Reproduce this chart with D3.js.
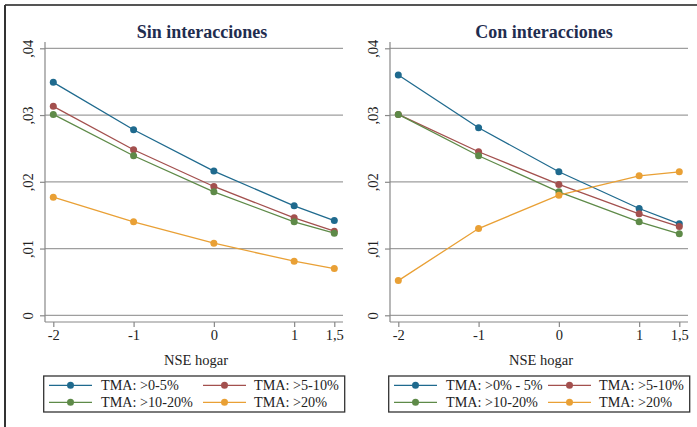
<!DOCTYPE html>
<html><head><meta charset="utf-8">
<script src="https://cdn.jsdelivr.net/npm/d3@7"></script>
<style>body{margin:0;background:#fff}svg{display:block}</style>
</head><body>
<svg id="c" width="697" height="427"></svg>
<script>
const xValues = [-2, -1, 0, 1, 1.5];
const xTickLabels = ["-2", "-1", "0", "1", "1,5"];
const yTicks = [0, 0.01, 0.02, 0.03, 0.04];
const yTickLabels = ["0", ",01", ",02", ",03", ",04"];
const panelTitles = ["Sin interacciones", "Con interacciones"];
const xAxisTitle = "NSE hogar";

const seriesNamesLeft = ["TMA: >0-5%", "TMA: >5-10%", "TMA: >10-20%", "TMA: >20%"];
const seriesNamesRight = ["TMA: >0% - 5%", "TMA: >5-10%", "TMA: >10-20%", "TMA: >20%"];

const leftBlue   = [0.0349, 0.0278, 0.0216, 0.0164, 0.0142];
const leftRed    = [0.0313, 0.0248, 0.0193, 0.0146, 0.0126];
const leftGreen  = [0.0301, 0.0239, 0.0185, 0.0140, 0.0123];
const leftOrange = [0.0177, 0.0140, 0.0108, 0.0081, 0.0070];

const rightBlue   = [0.0360, 0.0281, 0.0215, 0.0160, 0.0137];
const rightRed    = [0.0301, 0.0245, 0.0196, 0.0152, 0.0133];
const rightGreen  = [0.0301, 0.0239, 0.0185, 0.0140, 0.0122];
const rightOrange = [0.0052, 0.0130, 0.0180, 0.0209, 0.0215];

const colors = ["#1f6a8e", "#a3504e", "#5e8a48", "#e9a035"];
const FONT = "Liberation Serif";

const svg = d3.select("#c");

// outer frame (top and left edges)
svg.append("line").attr("x1",5).attr("x2",697).attr("y1",5).attr("y2",5).attr("stroke","#555").attr("stroke-width",2);
svg.append("line").attr("x1",5).attr("x2",5).attr("y1",5).attr("y2",427).attr("stroke","#333").attr("stroke-width",2);

const y = d3.scaleLinear().domain([0, 0.04]).range([315.3, 48.3]);

function panel(offset, title, series, names) {
  const g = svg.append("g").attr("transform", `translate(${offset},0)`);
  const x = d3.scaleLinear().domain([-2, 1.5]).range([53.3, 334.3]);
  const plotL = 45, plotR = 343, axisY = 322;

  g.selectAll(".grid").data(yTicks).join("line")
    .attr("x1", plotL).attr("x2", plotR)
    .attr("y1", d => y(d)).attr("y2", d => y(d))
    .attr("stroke", "#9e9e9e").attr("stroke-width", 1.2);

  const yAxis = d3.axisLeft(y).tickValues(yTicks).tickSize(5)
    .tickFormat((d,i) => yTickLabels[i]);
  const ya = g.append("g").attr("transform", `translate(${plotL},0)`).call(yAxis);
  ya.attr("font-family", FONT);
  ya.select(".domain").attr("d", `M0,42V${axisY}`).attr("stroke", "#888").attr("stroke-width",1.2);
  ya.selectAll(".tick line").attr("stroke", "#888").attr("stroke-width",1.2);
  ya.selectAll(".tick text")
    .attr("font-family", FONT).attr("font-size", 14.5).attr("fill", "#222")
    .attr("x", 0).attr("dy", 0)
    .attr("text-anchor", "middle")
    .attr("transform", "translate(-12.5,0) rotate(-90)");

  const xAxis = d3.axisBottom(x).tickValues(xValues).tickSize(5)
    .tickFormat((d,i) => xTickLabels[i]);
  const xa = g.append("g").attr("transform", `translate(0,${axisY})`).call(xAxis);
  xa.attr("font-family", FONT);
  xa.select(".domain").attr("d", `M${plotL},0H${plotR}`).attr("stroke", "#888").attr("stroke-width",1.2);
  xa.selectAll(".tick line").attr("stroke", "#888").attr("stroke-width",1.2);
  xa.selectAll(".tick text")
    .attr("font-family", FONT).attr("font-size", 14.5).attr("fill", "#222")
    .attr("y", 8).attr("dy", "0.71em");

  g.append("text").attr("x", 196).attr("y", 365).attr("text-anchor", "middle")
    .attr("font-family", FONT).attr("font-size", 14.5).attr("fill", "#222").text(xAxisTitle);

  g.append("text").attr("x", offset === 0 ? 202 : 199).attr("y", 38).attr("text-anchor", "middle")
    .attr("font-family", FONT).attr("font-size", 18).attr("font-weight", "bold")
    .attr("fill", "#1f2d4f").text(title);

  const line = d3.line().x((d,i) => x(xValues[i])).y(d => y(d));
  series.forEach((s, k) => {
    g.append("path").attr("d", line(s)).attr("fill", "none")
      .attr("stroke", colors[k]).attr("stroke-width", 1.3);
    g.selectAll(null).data(s).join("circle")
      .attr("cx", (d,i) => x(xValues[i])).attr("cy", d => y(d)).attr("r", 3.5)
      .attr("fill", colors[k]);
  });

  const lg = g.append("g");
  lg.append("rect").attr("x", 43.7).attr("y", 376).attr("width", 301).attr("height", 36)
    .attr("fill", "#fff").attr("stroke", "#333").attr("stroke-width", 1.3);
  const cols = [[49, 92, 70.5, 101], [203, 246, 224.5, 254]];
  const rows = [385.3, 402.3];
  names.forEach((n, k) => {
    const c = cols[k % 2], r = rows[Math.floor(k / 2)];
    lg.append("line").attr("x1", c[0]).attr("x2", c[1]).attr("y1", r).attr("y2", r)
      .attr("stroke", colors[k]).attr("stroke-width", 1.3);
    lg.append("circle").attr("cx", c[2]).attr("cy", r).attr("r", 3.5).attr("fill", colors[k]);
    lg.append("text").attr("x", c[3]).attr("y", r + 4.8)
      .attr("font-family", FONT).attr("font-size", 14.2).attr("fill", "#222").text(n);
  });
}

panel(0, panelTitles[0], [leftBlue, leftRed, leftGreen, leftOrange], seriesNamesLeft);
panel(345, panelTitles[1], [rightBlue, rightRed, rightGreen, rightOrange], seriesNamesRight);
</script>
</body></html>
